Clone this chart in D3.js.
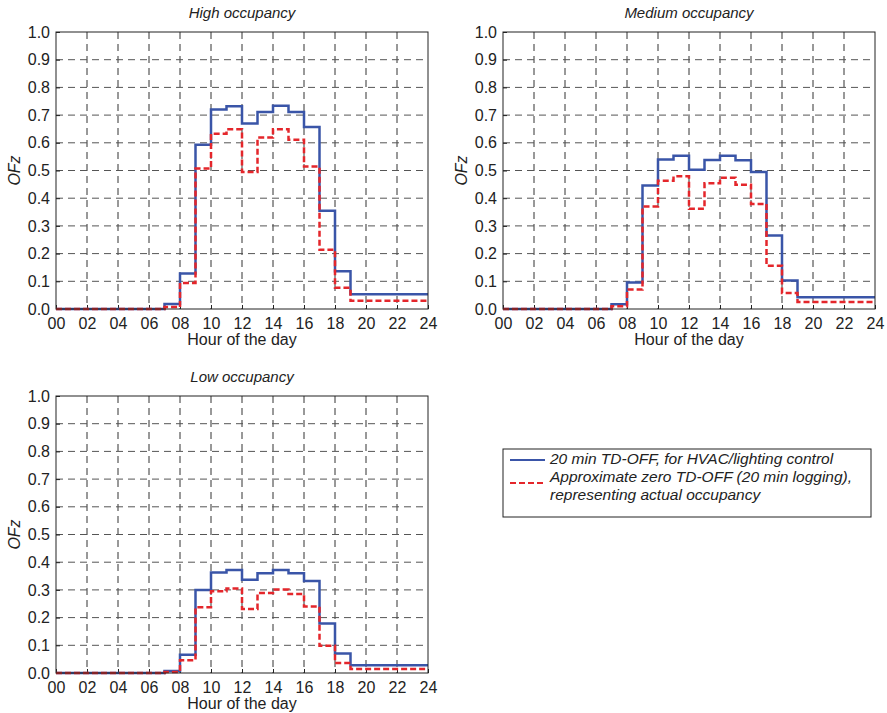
<!DOCTYPE html>
<html>
<head>
<meta charset="utf-8">
<script src="https://cdn.jsdelivr.net/npm/d3@7"></script>
<style>
  body { margin: 0; background: #fff; }
  svg { display: block; font-family: "Liberation Sans", Arial, sans-serif; }
</style>
</head>
<body>
<div class="chart"></div>
<script>
// hour of day, each value holds from h to h+1
const hours = [0,1,2,3,4,5,6,7,8,9,10,11,12,13,14,15,16,17,18,19,20,21,22,23];

const highBlue = [0,0,0,0,0,0,0,0.018,0.128,0.593,0.72,0.732,0.67,0.711,0.734,0.711,0.657,0.355,0.136,0.053,0.053,0.053,0.053,0.053];
const highRed  = [0,0,0,0,0,0,0,0.007,0.094,0.507,0.633,0.649,0.495,0.619,0.649,0.611,0.514,0.214,0.077,0.03,0.03,0.03,0.03,0.03];

const medBlue = [0,0,0,0,0,0,0,0.017,0.096,0.446,0.54,0.553,0.503,0.538,0.553,0.537,0.495,0.265,0.103,0.042,0.042,0.042,0.042,0.042];
const medRed  = [0,0,0,0,0,0,0,0.01,0.07,0.37,0.463,0.479,0.362,0.454,0.474,0.449,0.379,0.156,0.058,0.025,0.025,0.025,0.025,0.025];

const lowBlue = [0,0,0,0,0,0,0,0.007,0.066,0.30,0.363,0.372,0.337,0.36,0.372,0.36,0.332,0.179,0.07,0.028,0.028,0.028,0.028,0.028];
const lowRed  = [0,0,0,0,0,0,0,0.004,0.046,0.237,0.295,0.305,0.231,0.289,0.301,0.285,0.24,0.098,0.036,0.014,0.014,0.014,0.014,0.014];

const xTicks = [0,2,4,6,8,10,12,14,16,18,20,22,24];
const yTicks = [0,0.1,0.2,0.3,0.4,0.5,0.6,0.7,0.8,0.9,1.0];

const legendLabels = ["20 min TD-OFF, for HVAC/lighting control",
                      "Approximate zero TD-OFF (20 min logging),",
                      "representing actual occupancy"];

const blue = "#3a55a8", red = "#e4262b";

const svg = d3.select('.chart')
    .append('svg')
    .attr("width", 887)
    .attr("height", 713);

function panel(left, top, title, bVals, rVals) {
    const width = 372, height = 277;
    const g = svg.append("g").attr("transform", `translate(${left},${top})`);

    const x = d3.scaleLinear().domain([0, 24]).range([0, width]);
    const y = d3.scaleLinear().domain([0, 1]).range([height, 0]);

    // grid
    g.append("g").selectAll("line.vg")
        .data(xTicks.slice(1, -1)).join("line")
        .attr("x1", d => x(d)).attr("x2", d => x(d))
        .attr("y1", 0).attr("y2", height)
        .attr("stroke", "#333").attr("stroke-dasharray", "7,5");
    g.append("g").selectAll("line.hg")
        .data(yTicks.slice(1, -1)).join("line")
        .attr("x1", 0).attr("x2", width)
        .attr("y1", d => y(d)).attr("y2", d => y(d))
        .attr("stroke", "#555").attr("stroke-dasharray", "7,5");

    // axes
    const xAxis = d3.axisBottom(x).tickValues(xTicks).tickSizeInner(-4).tickSizeOuter(0)
        .tickPadding(8).tickFormat(d => d3.format("02d")(d));
    const yAxis = d3.axisLeft(y).tickValues(yTicks).tickSizeInner(-4).tickSizeOuter(0)
        .tickPadding(6).tickFormat(d3.format(".1f"));

    const gx = g.append("g").attr("transform", `translate(0,${height})`).call(xAxis);
    const gy = g.append("g").call(yAxis);
    [gx, gy].forEach(a => {
        a.select(".domain").remove();
        a.selectAll("text").attr("font-size", 16).attr("fill", "#222").attr("font-family", null);
        a.selectAll("line").attr("stroke", "#222");
    });
    gx.selectAll("text").attr("dy", "0.75em");

    // series
    const line = d3.line()
        .x(d => x(d[0])).y(d => y(d[1]))
        .curve(d3.curveStepAfter);
    const pts = v => hours.map((h, i) => [h, v[i]]).concat([[24, v[v.length - 1]]]);

    g.append("path").datum(pts(bVals))
        .attr("d", line).attr("fill", "none")
        .attr("stroke", blue).attr("stroke-width", 2.5);
    g.append("path").datum(pts(rVals))
        .attr("d", line).attr("fill", "none")
        .attr("stroke", red).attr("stroke-width", 2.5)
        .attr("stroke-dasharray", "6,3");

    // frame
    g.append("rect").attr("width", width).attr("height", height)
        .attr("fill", "none").attr("stroke", "#222").attr("stroke-width", 1);

    g.append("text")
        .attr("x", width / 2).attr("y", -14)
        .attr("text-anchor", "middle").attr("font-size", 15).attr("font-style", "italic")
        .attr("fill", "#222")
        .text(title);

    g.append("text")
        .attr("x", width / 2).attr("y", height + 36)
        .attr("text-anchor", "middle").attr("font-size", 16).attr("fill", "#222")
        .text("Hour of the day");

    g.append("text")
        .attr("transform", `translate(-36,${height / 2}) rotate(-90)`)
        .attr("text-anchor", "middle").attr("font-size", 16).attr("font-style", "italic")
        .attr("fill", "#222")
        .text("OFz");
}

panel(56, 32, "High occupancy", highBlue, highRed);
panel(503, 32, "Medium occupancy", medBlue, medRed);
panel(56, 396, "Low occupancy", lowBlue, lowRed);

// legend
const lg = svg.append("g").attr("transform", "translate(503,449)");
lg.append("rect").attr("width", 368).attr("height", 68)
    .attr("fill", "#fff").attr("stroke", "#222").attr("stroke-width", 1);
lg.append("line").attr("x1", 7).attr("x2", 42).attr("y1", 11).attr("y2", 11)
    .attr("stroke", blue).attr("stroke-width", 2);
lg.append("line").attr("x1", 7).attr("x2", 42).attr("y1", 34).attr("y2", 34)
    .attr("stroke", red).attr("stroke-width", 2).attr("stroke-dasharray", "6,3");
lg.selectAll("text.lab").data(legendLabels).join("text")
    .attr("x", 47).attr("y", (d, i) => 14.5 + i * 18)
    .attr("font-size", 15.5).attr("font-style", "italic").attr("fill", "#222")
    .text(d => d);
</script>
</body>
</html>
